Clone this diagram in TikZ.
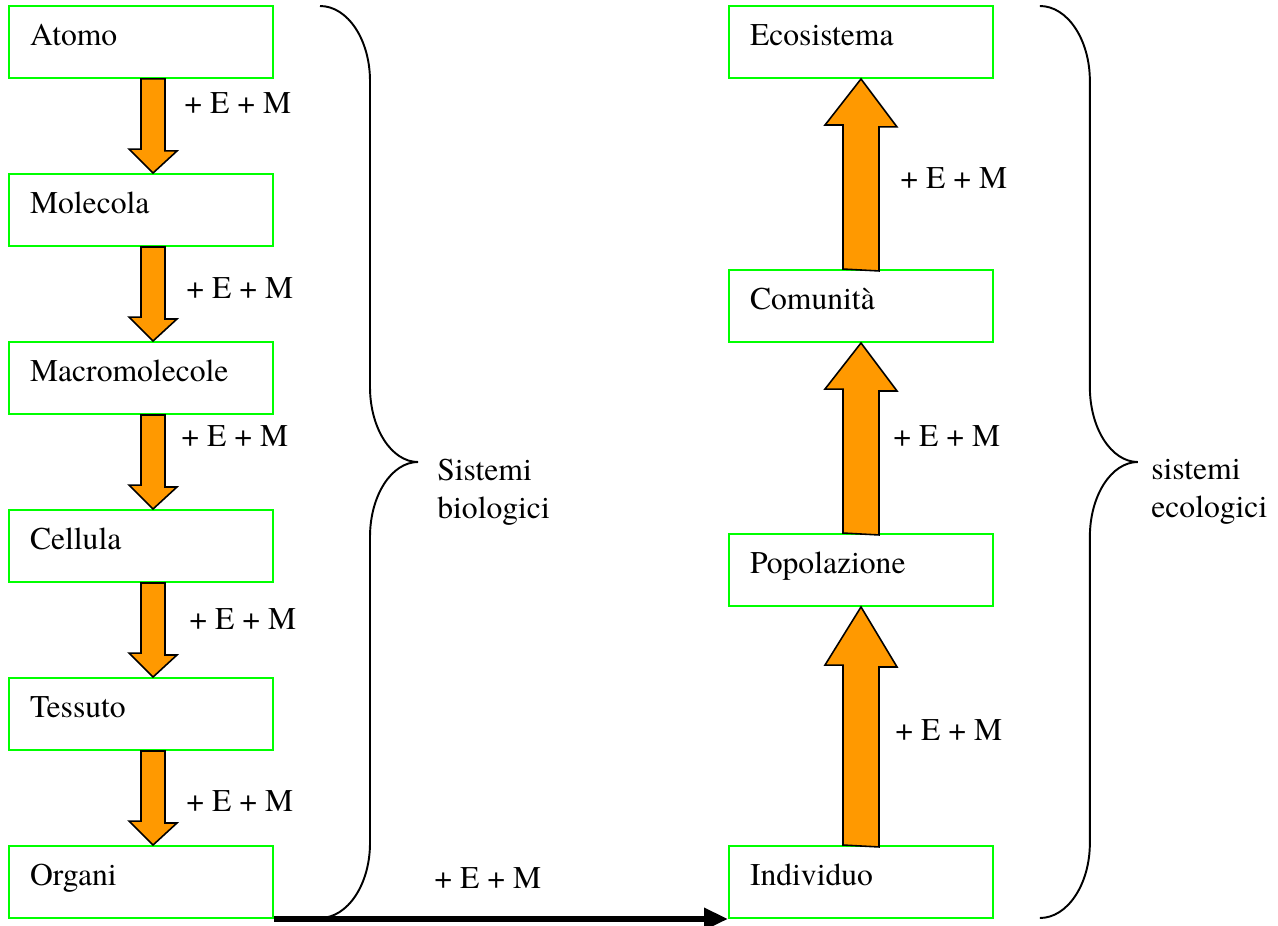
\documentclass[tikz,border=0pt]{standalone}
\usepackage{fontspec}
\setmainfont{texgyretermes}[Extension=.otf,UprightFont=*-regular,BoldFont=*-bold,ItalicFont=*-italic,BoldItalicFont=*-bolditalic]
\usetikzlibrary{arrows.meta}
\definecolor{boxgreen}{RGB}{0,255,0}
\definecolor{arroworange}{RGB}{255,153,0}
\tikzset{
  levelbox/.style={draw=boxgreen,line width=1.1pt,minimum height=1.44cm,text width=4.44cm,inner xsep=0.42cm,inner ysep=0pt,align=left,text height=0.7em,text depth=0.26em},
  blockarrow/.style={draw=black,line width=0.9pt,fill=arroworange,line join=miter},
  bracket/.style={line width=1.1pt},
  plusEM/.style={anchor=west,inner sep=0pt}
}

\begin{document}
\begin{tikzpicture}[x=0.02cm,y=-0.02cm,font=\fontsize{18}{21.5}\selectfont]
\useasboundingbox (0,0) rectangle (1278,926);
%levels, left
\node[levelbox] (atomo) at (141,42) {Atomo};
\node[levelbox] (molecola) at (141,210) {Molecola};
\node[levelbox] (macromol) at (141,378) {Macromolecole};
\node[levelbox] (cellula) at (141,546) {Cellula};
\node[levelbox] (tessuto) at (141,714) {Tessuto};
\node[levelbox] (organi) at (141,882) {Organi};
%levels, right
\node[levelbox] (ecosistema) at (861,42) {Ecosistema};
\node[levelbox] (comunita) at (861,306) {Comunità};
\node[levelbox] (popolazione) at (861,570) {Popolazione};
\node[levelbox] (individuo) at (861,882) {Individuo};
%arrows down
\foreach \a/\b/\lx/\ly in {atomo/molecola/184/103,molecola/macromol/186/288,macromol/cellula/181/436,cellula/tessuto/189/619,tessuto/organi/186/801} {
	\draw[blockarrow] (\a.south) -- ++(24,0) -- ++(0,72) -- ++(12,0) -- ([xshift=0.24cm]\b.north) -- ++(-24,-24) -- ++(12,0) -- cycle;
	\node[plusEM] (em-\a) at (\lx,\ly) {+ E + M};
}
%arrows up
\foreach \a/\b/\s/\h/\lx/\ly in {individuo/popolazione/180/60/895/730,popolazione/comunita/144/48/893/436,comunita/ecosistema/144/48/900/178} {
	\draw[blockarrow] ([xshift=-0.36cm]\a.north) -- ++(0,-\s) -- ++(-18,0) -- (\b.south) -- ++(36,\h) -- ++(-18,0) -- ++(0,\s) -- cycle;
	\node[plusEM] (em-\a) at (\lx,\ly) {+ E + M};
}
%passage
\draw[line width=3.6pt,-{Triangle[length=0.48cm,width=0.42cm]}] (organi.south east) -- (individuo.south west);
\node[plusEM] (em-organi) at (434,878) {+ E + M};
%braces
\foreach \dx in {0,14.4} {
	\draw[bracket,xshift=\dx cm] (320,6) .. controls (347.6,6) and (370,39.6) .. (370,81) -- (370,387) .. controls (370,428.4) and (391.5,462) .. (418,462) .. controls (391.5,462) and (370,495.6) .. (370,537) -- (370,843) .. controls (370,884.4) and (347.6,918) .. (320,918);
}
\node[anchor=west,align=left,inner sep=0pt] (biologici) at (437,492) {Sistemi\\biologici};
\node[anchor=west,align=left,inner sep=0pt] (ecologici) at (1151,492) {sistemi\\ecologici};
\end{tikzpicture}
\end{document}
